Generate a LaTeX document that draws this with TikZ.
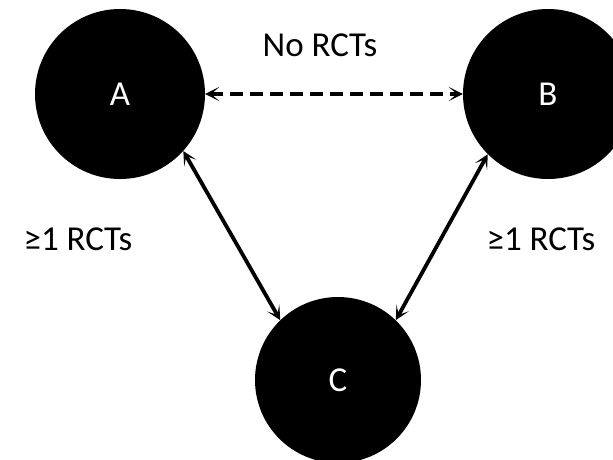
\documentclass[tikz,border=0pt]{standalone}
\usepackage{fontspec}
\setmainfont{Carlito}
\usetikzlibrary{arrows.meta}
\begin{document}
\begin{tikzpicture}[x=1pt,y=-1pt,
  blob/.style={circle,fill=black,text=white,minimum size=170pt,inner sep=0pt,font=\fontsize{35}{38}\selectfont},
  lbl/.style={font=\fontsize{35}{38}\selectfont,inner sep=0pt},
  tip/.style={Stealth[length=14pt,width=14pt,inset=8pt]},
  link/.style={line width=3.8pt,{Stealth[length=14pt,width=14pt,inset=8pt]}-{Stealth[length=14pt,width=14pt,inset=8pt]}},
  dlink/.style={line width=4.5pt,dash pattern=on 13pt off 7pt,{Stealth[length=14pt,width=14pt,inset=8pt]}-{Stealth[length=14pt,width=14pt,inset=8pt]}}]
\useasboundingbox (0,0) rectangle (613,459);
\begin{scope}
\clip (0,0) rectangle (613,459);
\node[blob] (A) at (120,94) {A};
\node[blob] (B) at (548,94) {B};
\node[blob,minimum size=166pt] (C) at (338,380) {C};
\end{scope}
\node[lbl] (nr) at (320,45) {No RCTs};
\node[lbl] (l1) at (78,239) {≥1 RCTs};
\node[lbl] (l2) at (541,239) {≥1 RCTs};
\draw[dlink] (A.east) -- (B.west);
\draw[link] (A.-42) -- (C.134);
\draw[link] (B.-135) -- (C.46);
\end{tikzpicture}
\end{document}
